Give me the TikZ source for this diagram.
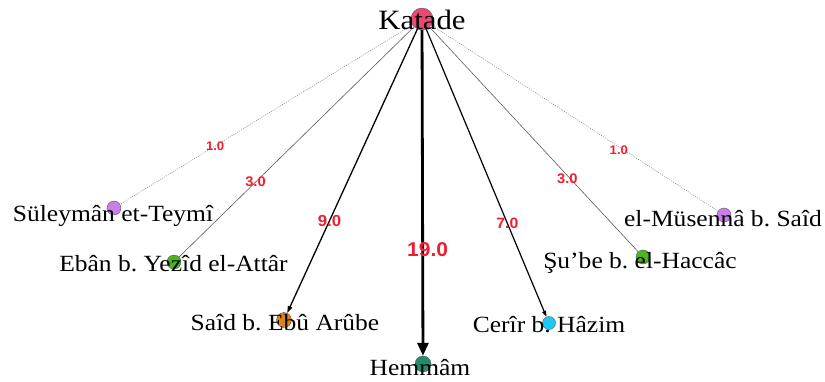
\documentclass[tikz,border=0pt]{standalone}
\usepackage{graphicx}
\usepackage{fontspec}
\setmainfont{Liberation Serif}
\newfontfamily\lblfont{Liberation Sans}
\usetikzlibrary{arrows.meta}
\frenchspacing
\definecolor{cKat}{RGB}{232,74,112}
\definecolor{cPur}{RGB}{200,128,232}
\definecolor{cGrn}{RGB}{76,180,30}
\definecolor{cOrg}{RGB}{222,132,20}
\definecolor{cTeal}{RGB}{38,138,108}
\definecolor{cCyan}{RGB}{30,200,245}
\definecolor{cLab}{RGB}{240,30,50}
\newcommand{\nmx}[1]{\scalebox{1.1}[1]{#1}}
\newcommand{\lbx}[1]{\scalebox{1.05}[1]{#1}}
\begin{document}
\begin{tikzpicture}[x=1pt,y=-1pt,
  dot/.style={circle, draw=black!65, line width=0.4pt, minimum size=14pt, inner sep=0pt},
  nmlab/.style={anchor=base, inner sep=0pt, font=\fontsize{23.2}{26}\selectfont},
  elab/.style={pos=0.675, inner sep=0pt, text=cLab, font=\lblfont\bfseries},
  wone/.style={draw=black!55, line width=0.45pt, dash pattern=on 1pt off 1.2pt},
  wthree/.style={draw=black!65, line width=0.6pt},
  wseven/.style={draw=black, line width=1.2pt, -{Triangle[length=6pt,width=4pt]}},
  wnine/.style={draw=black, line width=1.3pt, -{Triangle[length=7pt,width=4.5pt]}},
  wbig/.style={draw=black, line width=2.8pt, -{Triangle[length=13pt,width=11pt]}}]
\useasboundingbox (0,0) rectangle (825,381);
% circles
\node[dot, fill=cKat, minimum size=22pt] (kat) at (422,19) {};
\node[dot, fill=cPur] (sul) at (114,208) {};
\node[dot, fill=cGrn] (eban) at (174,262) {};
\node[dot, fill=cOrg, minimum size=15pt] (said) at (284,320) {};
\node[dot, fill=cTeal, minimum size=16pt] (hem) at (423,364) {};
\node[dot, fill=cCyan, minimum size=13pt] (cerir) at (549,323) {};
\node[dot, fill=cGrn] (sube) at (643,257) {};
\node[dot, fill=cPur] (mus) at (724,215) {};
% connectors
\draw[wone] (kat) -- node[elab, font=\lblfont\bfseries\fontsize{12.5}{13}\selectfont] {\lbx{1.0}} (sul);
\draw[wthree] (kat) -- node[elab, font=\lblfont\bfseries\fontsize{14}{15}\selectfont] {\lbx{3.0}} (eban);
\draw[wnine] (kat) -- node[elab, font=\lblfont\bfseries\fontsize{16}{17}\selectfont] {\lbx{9.0}} (said);
\draw[wbig] (kat) -- node[elab, xshift=5pt, font=\lblfont\bfseries\fontsize{20}{21}\selectfont] {\lbx{19.0}} (hem);
\draw[wseven] (kat) -- node[elab, font=\lblfont\bfseries\fontsize{15}{16}\selectfont] {\lbx{7.0}} (cerir);
\draw[wthree] (kat) -- node[elab, xshift=-3pt, font=\lblfont\bfseries\fontsize{14}{15}\selectfont] {\lbx{3.0}} (sube);
\draw[wone] (kat) -- node[elab, xshift=-6pt, font=\lblfont\bfseries\fontsize{12.5}{13}\selectfont] {\lbx{1.0}} (mus);
% names
\node[nmlab, font=\fontsize{28}{30}\selectfont] (katL) at (422,29) {\nmx{Katade}};
\node[nmlab] (sulL) at (113,221) {\nmx{Süleymân et-Teymî}};
\node[nmlab] (ebanL) at (173.5,271) {\nmx{Ebân b. Yezîd el-Attâr}};
\node[nmlab] (saidL) at (285,330) {\nmx{Saîd b. Ebû Arûbe}};
\node[nmlab] (hemL) at (420,375) {\nmx{Hemmâm}};
\node[nmlab] (cerL) at (549,332) {\nmx{Cerîr b. Hâzim}};
\node[nmlab] (subeL) at (640,268) {\nmx{Şu’be b. el-Haccâc}};
\node[nmlab] (musL) at (723,226) {\nmx{el-Müsennâ b. Saîd}};
\end{tikzpicture}
\end{document}
